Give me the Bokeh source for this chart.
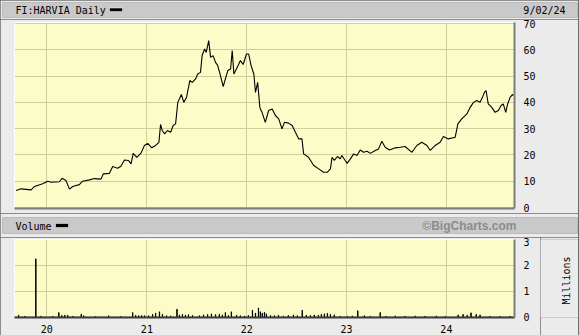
import math
import pandas as pd
from datetime import datetime
from bokeh.plotting import figure
from bokeh.layouts import column, row
from bokeh.models import Range1d, FixedTicker, DatetimeTickFormatter, Label
from bokeh.embed import file_html
from bokeh.resources import INLINE

# ---------------- data ----------------
price_dates = [
    "2019-09-11", "2019-09-29", "2019-11-05", "2019-11-17", "2019-12-17", "2020-01-05", "2020-01-17", "2020-02-16", "2020-02-26", "2020-03-11",
    "2020-03-24", "2020-04-05", "2020-04-29", "2020-05-11", "2020-06-05", "2020-06-23", "2020-07-17", "2020-07-26", "2020-08-17", "2020-08-29",
    "2020-09-16", "2020-09-28", "2020-10-11", "2020-10-26", "2020-11-04", "2020-11-12", "2020-11-25", "2020-12-10", "2020-12-23", "2021-01-04",
    "2021-01-19", "2021-02-02", "2021-02-14", "2021-02-20", "2021-02-26", "2021-03-07", "2021-03-17", "2021-03-29", "2021-04-07", "2021-04-16",
    "2021-04-24", "2021-05-07", "2021-05-16", "2021-05-26", "2021-06-07", "2021-06-16", "2021-06-28", "2021-07-06", "2021-07-16", "2021-07-22",
    "2021-07-31", "2021-08-06", "2021-08-15", "2021-08-22", "2021-08-31", "2021-09-09", "2021-09-17", "2021-09-27", "2021-10-07", "2021-10-15",
    "2021-10-24", "2021-11-03", "2021-11-09", "2021-11-15", "2021-11-27", "2021-12-09", "2021-12-19", "2021-12-31", "2022-01-08", "2022-01-17",
    "2022-01-27", "2022-02-02", "2022-02-10", "2022-02-18", "2022-02-20", "2022-02-26", "2022-03-10", "2022-03-22", "2022-04-04", "2022-04-16",
    "2022-04-28", "2022-05-10", "2022-05-19", "2022-06-03", "2022-06-16", "2022-06-28", "2022-07-10", "2022-07-22", "2022-07-28", "2022-08-15",
    "2022-09-03", "2022-09-21", "2022-10-09", "2022-10-22", "2022-11-03", "2022-11-09", "2022-11-17", "2022-11-29", "2022-12-09", "2022-12-15",
    "2022-12-27", "2023-01-03", "2023-01-15", "2023-01-27", "2023-02-08", "2023-02-20", "2023-03-04", "2023-03-17", "2023-03-29", "2023-04-16",
    "2023-04-28", "2023-05-10", "2023-05-22", "2023-06-07", "2023-06-28", "2023-07-16", "2023-08-03", "2023-08-28", "2023-09-15", "2023-10-03",
    "2023-10-22", "2023-11-03", "2023-11-21", "2023-12-09", "2023-12-21", "2024-01-08", "2024-02-02", "2024-02-12", "2024-02-26", "2024-03-16",
    "2024-03-28", "2024-04-09", "2024-04-21", "2024-05-03", "2024-05-12", "2024-05-19", "2024-05-25", "2024-06-02", "2024-06-15", "2024-06-27",
    "2024-07-09", "2024-07-19", "2024-07-27", "2024-08-05", "2024-08-12", "2024-08-21", "2024-08-30", "2024-09-02",
]
price_values = [
    6.5, 7.1, 6.7, 8.0, 9.0, 10.0, 9.6, 9.8, 11.1, 10.3,
    7.0, 8.0, 8.7, 10.0, 10.5, 11.0, 10.8, 12.8, 13.0, 15.6,
    14.9, 15.7, 18.1, 17.9, 16.6, 20.6, 19.1, 20.6, 23.6, 24.4,
    22.7, 23.6, 24.8, 31.6, 29.3, 28.0, 29.3, 28.6, 31.2, 31.8,
    40.0, 43.0, 40.0, 41.9, 48.3, 47.6, 48.9, 50.8, 51.4, 57.8,
    60.3, 59.0, 63.5, 57.1, 57.8, 55.2, 54.0, 50.2, 46.0, 48.9,
    52.1, 52.7, 59.7, 50.8, 53.3, 55.9, 54.4, 58.4, 58.4, 54.0,
    50.8, 43.8, 47.6, 38.1, 37.5, 36.2, 32.4, 36.9, 37.5, 35.0,
    33.7, 29.9, 32.4, 32.1, 31.2, 28.6, 26.1, 26.1, 20.4, 19.1,
    16.0, 14.7, 13.4, 13.4, 14.7, 19.1, 17.9, 19.4, 18.5, 19.8,
    17.9, 16.8, 18.5, 20.4, 19.8, 21.9, 21.0, 21.4, 20.6, 21.7,
    22.3, 25.2, 22.9, 21.9, 22.7, 22.9, 23.2, 21.0, 23.6, 24.8,
    23.6, 21.7, 23.6, 24.8, 27.0, 26.1, 26.7, 31.8, 33.7, 35.6,
    38.1, 40.0, 40.7, 40.0, 41.9, 43.8, 44.5, 39.4, 38.1, 36.2,
    36.9, 38.8, 39.4, 36.2, 39.4, 41.9, 43.0, 42.6,
]

volume_dates = [
    "2019-09-20", "2019-10-13", "2019-11-22", "2019-12-10", "2020-01-23", "2020-02-14", "2020-02-25", "2020-03-07", "2020-03-18", "2020-04-05",
    "2020-05-06", "2020-05-15", "2020-06-28", "2020-08-14", "2020-09-27", "2020-11-10", "2020-11-21", "2020-12-02", "2020-12-13", "2020-12-24",
    "2021-01-07", "2021-01-22", "2021-02-02", "2021-02-16", "2021-02-27", "2021-03-14", "2021-03-29", "2021-04-21", "2021-04-30", "2021-05-11",
    "2021-05-22", "2021-06-02", "2021-06-17", "2021-07-12", "2021-07-27", "2021-08-11", "2021-08-25", "2021-09-09", "2021-09-23", "2021-10-04",
    "2021-10-15", "2021-10-26", "2021-11-06", "2021-11-25", "2021-12-09", "2021-12-24", "2022-01-07", "2022-01-22", "2022-02-02", "2022-02-13",
    "2022-02-20", "2022-02-27", "2022-03-07", "2022-03-14", "2022-03-29", "2022-04-12", "2022-04-27", "2022-05-15", "2022-06-02", "2022-06-21",
    "2022-07-05", "2022-07-23", "2022-08-07", "2022-08-22", "2022-09-05", "2022-09-20", "2022-10-01", "2022-10-12", "2022-10-23", "2022-11-03",
    "2022-11-17", "2022-12-09", "2023-01-04", "2023-01-22", "2023-02-11", "2023-03-07", "2023-03-29", "2023-05-04", "2023-05-26", "2023-06-28",
    "2023-08-03", "2023-09-09", "2023-10-15", "2023-11-25", "2023-12-28", "2024-02-13", "2024-03-02", "2024-03-17", "2024-03-31", "2024-04-19",
    "2024-05-03", "2024-06-09", "2024-07-15", "2024-08-21",
]
volume_millions = [
    0.07, 0.03, 2.25, 0.03, 0.03, 0.17, 0.06, 0.07, 0.06, 0.03,
    0.11, 0.05, 0.02, 0.05, 0.02, 0.17, 0.06, 0.05, 0.06, 0.05,
    0.05, 0.10, 0.15, 0.20, 0.10, 0.05, 0.04, 0.30, 0.08, 0.10,
    0.07, 0.09, 0.06, 0.05, 0.08, 0.10, 0.12, 0.09, 0.11, 0.08,
    0.17, 0.06, 0.20, 0.07, 0.05, 0.04, 0.06, 0.26, 0.15, 0.35,
    0.20, 0.15, 0.18, 0.12, 0.06, 0.05, 0.07, 0.04, 0.06, 0.08,
    0.05, 0.26, 0.07, 0.06, 0.08, 0.07, 0.10, 0.12, 0.14, 0.10,
    0.08, 0.03, 0.03, 0.04, 0.24, 0.05, 0.03, 0.17, 0.03, 0.04,
    0.03, 0.04, 0.03, 0.04, 0.03, 0.08, 0.10, 0.07, 0.16, 0.10,
    0.08, 0.03, 0.02, 0.03,
]

year_ticks = ["2020-01-01", "2021-01-01", "2022-01-01", "2023-01-01", "2024-01-01"]
price_ticks = [0, 10, 20, 30, 40, 50, 60, 70]
volume_ticks = [0, 1, 2, 3]

title_text = "FI:HARVIA Daily"
date_text = "9/02/24"
volume_text = "Volume"
credit_text = "\u00a9BigCharts.com"
volume_unit = "Millions"

# ---------------- styling ----------------
FIG_W = 578
BODY = "#ebebeb"
BAND = "#c9c9c9"
PLOT_BG = "#fcfcc8"
GRID = "#cfcf9c"
EDGE = "#7c7c7c"
MONO = "DejaVu Sans Mono"
X_START = datetime(2019, 9, 5)
X_END = datetime(2024, 9, 6)

pdates = pd.to_datetime(price_dates)
vdates = pd.to_datetime(volume_dates)
year_ms = [pd.Timestamp(d).value / 1e6 for d in year_ticks]
yr_fmt = DatetimeTickFormatter(years="%y", months="%y", days="%y", hours="%y",
                               minutes="%y", seconds="%y", milliseconds="%y",
                               minsec="%y", hourmin="%y")


def plain(p, bg):
    p.background_fill_color = bg
    p.border_fill_color = BODY
    p.outline_line_color = None
    p.grid.visible = False
    return p


def band_figure(h, top, bottom, y_top, y_bottom):
    # frame spans canvas x 2..577; ranges are in canvas pixels
    p = figure(width=FIG_W, height=h, x_range=Range1d(2, 577),
               y_range=Range1d(y_bottom, y_top),
               x_axis_location=None, y_axis_location=None,
               toolbar_location=None, output_backend="svg",
               min_border_left=2, min_border_right=1,
               min_border_top=top, min_border_bottom=bottom)
    return plain(p, BAND)


def style_plot(p):
    p.background_fill_color = PLOT_BG
    p.border_fill_color = BODY
    p.outline_line_color = "white"
    p.grid.grid_line_color = GRID
    p.grid.grid_line_width = 1
    for ax in p.axis:
        ax.major_tick_line_color = None
        ax.minor_tick_line_color = None
        ax.axis_line_color = EDGE
        ax.axis_line_width = 2
        ax.major_label_text_font = MONO
        ax.major_label_text_font_size = "10px"
        ax.major_label_text_color = "black"


# ---- title band (canvas y 0..19) ----
f_title = band_figure(19, 2, 2, 2, 17)
f_title.add_layout(Label(x=15, y=10, text=title_text, text_font=MONO, text_font_size="10px",
                         text_color="black", text_baseline="middle", text_align="left"))
f_title.quad(left=[109], right=[122], top=[7.5], bottom=[11], fill_color="black", line_color="white", line_width=0.5)
f_title.add_layout(Label(x=565, y=10, text=date_text, text_font=MONO, text_font_size="10px",
                         text_color="black", text_baseline="middle", text_align="right"))

# ---- price chart (canvas y 19..213) ----
f_price = figure(width=FIG_W, height=194, x_axis_type="datetime",
                 x_range=Range1d(X_START, X_END), y_range=Range1d(-0.38, 70.38),
                 y_axis_location="right", toolbar_location=None, output_backend="svg",
                 min_border_left=14, min_border_right=64, min_border_top=3, min_border_bottom=5)
style_plot(f_price)
f_price.xaxis.ticker = FixedTicker(ticks=[])
f_price.xaxis.major_label_standoff = 0
f_price.xgrid.ticker = FixedTicker(ticks=year_ms)
f_price.yaxis.ticker = FixedTicker(ticks=price_ticks)
f_price.yaxis.major_label_standoff = 3
f_price.line(pdates, price_values, line_color="black", line_width=1.1)

# ---- volume band (canvas y 213..237) ----
f_vband = band_figure(24, 4, 4, 217, 233)
f_vband.add_layout(Label(x=15, y=225.5, text=volume_text, text_font=MONO, text_font_size="10px",
                         text_color="black", text_baseline="middle", text_align="left"))
f_vband.quad(left=[55], right=[68], top=[223], bottom=[227], fill_color="black", line_color="white", line_width=0.5)
f_vband.add_layout(Label(x=516, y=225.5, text=credit_text, text_font="Liberation Sans",
                         text_font_size="12px", text_font_style="bold", text_color="#8c8c8c",
                         text_baseline="middle", text_align="right"))

# ---- volume chart (canvas y 237..335) ----
f_vol = figure(width=540, height=98, x_axis_type="datetime",
               x_range=Range1d(X_START, X_END), y_range=Range1d(-0.02, 3.0),
               y_axis_location="right", toolbar_location=None, output_backend="svg",
               min_border_left=14, min_border_right=26, min_border_top=2, min_border_bottom=18)
style_plot(f_vol)
f_vol.xaxis.ticker = FixedTicker(ticks=year_ms)
f_vol.xaxis.formatter = yr_fmt
f_vol.xaxis.major_label_standoff = 1
f_vol.xaxis.axis_line_color = "#3c3c3c"
f_vol.yaxis.ticker = FixedTicker(ticks=volume_ticks)
f_vol.yaxis.major_label_standoff = 3
f_vol.vbar(x=vdates, top=volume_millions, bottom=0, width=86400000,
           fill_color="black", line_color="black", line_width=1)

# unit caption beside the volume axis (canvas x 540..578)
f_unit = figure(width=38, height=98, x_range=Range1d(540, 578), y_range=Range1d(317, 239),
                x_axis_location=None, y_axis_location=None,
                toolbar_location=None, output_backend="svg",
                min_border_left=0, min_border_right=0, min_border_top=2, min_border_bottom=18)
plain(f_unit, BODY)
f_unit.add_layout(Label(x=566, y=280, text=volume_unit, text_font=MONO, text_font_size="10px",
                        text_color="black", angle=math.pi / 2,
                        text_align="center", text_baseline="middle"))

layout = column(row(f_title), row(f_price), row(f_vband), row(f_vol, f_unit, spacing=0),
                spacing=0, width=579, styles={"background-color": "#6e6e6e"})

open("out.html", "w").write(file_html(layout, INLINE))
